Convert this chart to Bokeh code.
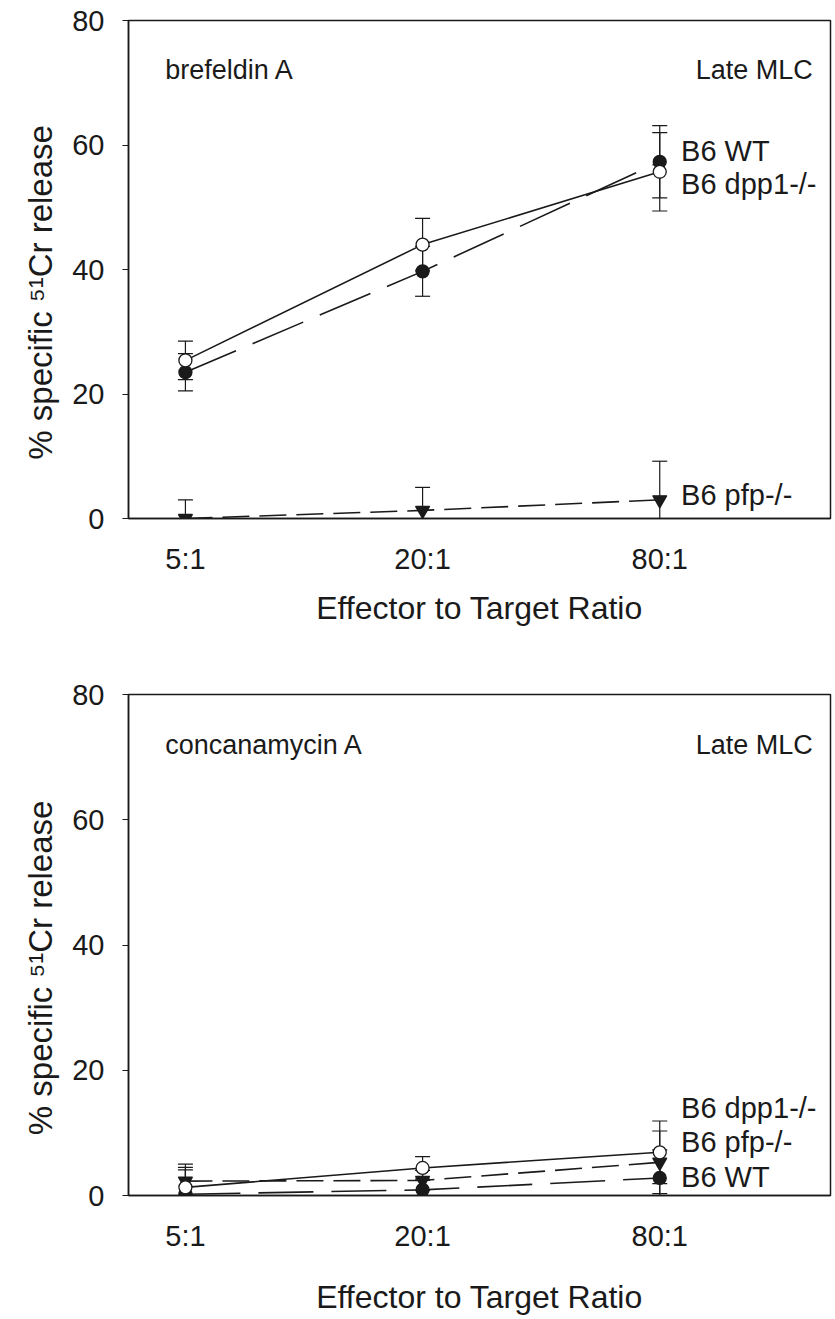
from bokeh.plotting import figure
from bokeh.layouts import column
from bokeh.models import ColumnDataSource, Whisker, TeeHead, FixedTicker
from bokeh.core.properties import value
from bokeh.embed import file_html
from bokeh.resources import INLINE

# Effector-to-target ratios (categorical positions 1, 2, 3)
ratios = ["5:1", "20:1", "80:1"]
xpos = [1, 2, 3]

# Brefeldin A treated, late MLC: mean % specific release and error
bref_wt = [23.5, 39.7, 57.3]
bref_wt_err = [3.0, 4.0, 5.8]
bref_dpp1 = [25.4, 44.0, 55.7]
bref_dpp1_err = [3.1, 4.2, 6.3]
bref_pfp = [0.0, 1.3, 3.0]
bref_pfp_err = [3.0, 3.7, 6.2]

# Concanamycin A treated, late MLC
conc_wt = [0.2, 0.9, 2.8]
conc_wt_err = [3.9, 1.5, 4.5]
conc_dpp1 = [1.3, 4.4, 6.9]
conc_dpp1_err = [3.2, 1.8, 5.0]
conc_pfp = [2.3, 2.4, 5.3]
conc_pfp_err = [2.7, 1.6, 5.0]

# Series name tags placed beside the 80:1 points
bref_tags = ["B6 WT", "B6 dpp1-/-", "B6 pfp-/-"]
bref_tag_y = [59.0, 53.8, 3.7]
conc_tags = ["B6 dpp1-/-", "B6 pfp-/-", "B6 WT"]
conc_tag_y = [13.9, 8.5, 2.9]

FONT = "Liberation Sans"
INK = "#1a1a1a"

# trailing no-break spaces nudge the rotated title a little below centre
Y_TITLE = "% specific \u2075\u00b9Cr release" + "\u00a0" * 5


def make_panel(series, drug, tags, tag_y, border_top, frame_h, border_bottom, title_standoff):
    p = figure(
        output_backend="svg", toolbar_location=None,
        frame_width=702, frame_height=frame_h,
        min_border_left=128, min_border_right=5,
        min_border_top=border_top, min_border_bottom=border_bottom,
        x_range=(0.76, 3.72), y_range=(0, 80),
    )
    p.grid.visible = False
    p.outline_line_color = INK
    p.outline_line_width = 1.5
    p.background_fill_color = "white"
    p.border_fill_color = "white"

    # Axes
    p.xaxis.ticker = FixedTicker(ticks=xpos)
    p.xaxis.major_label_overrides = {x: r for x, r in zip(xpos, ratios)}
    p.xaxis.major_tick_out = 0
    p.xaxis.major_tick_in = 0
    p.xaxis.minor_tick_out = 0
    p.xaxis.minor_tick_in = 0
    p.xaxis.major_label_standoff = 24
    p.xaxis.axis_label = "Effector to Target Ratio"
    p.xaxis.axis_label_standoff = title_standoff

    p.yaxis.ticker = FixedTicker(ticks=[0, 20, 40, 60, 80])
    p.yaxis.major_tick_out = 6
    p.yaxis.major_tick_in = 0
    p.yaxis.minor_tick_out = 0
    p.yaxis.minor_tick_in = 0
    p.yaxis.major_label_standoff = 18
    p.yaxis.axis_label = Y_TITLE
    p.yaxis.axis_label_standoff = 10

    for ax in (p.xaxis, p.yaxis):
        ax.axis_line_color = INK
        ax.axis_line_width = 1.5
        ax.major_tick_line_color = INK
        ax.major_label_text_font = FONT
        ax.major_label_text_font_size = "29px"
        ax.major_label_text_color = INK
        ax.axis_label_text_font = FONT
        ax.axis_label_text_font_style = "normal"
        ax.axis_label_text_color = INK
    p.xaxis.axis_label_text_font_size = "32px"
    p.yaxis.axis_label_text_font_size = "33px"

    # Error bars first, then connecting lines, then markers
    for vals, errs, dash, marker, fill in series:
        src = ColumnDataSource(dict(
            x=xpos, y=vals,
            upper=[v + e for v, e in zip(vals, errs)],
            lower=[v - e for v, e in zip(vals, errs)],
        ))
        w = Whisker(
            source=src, base="x", upper="upper", lower="lower",
            line_color=INK, line_width=1.2, level="underlay",
            upper_head=TeeHead(size=15, line_color=INK, line_width=1.2),
            lower_head=TeeHead(size=15, line_color=INK, line_width=1.2),
        )
        p.add_layout(w)
        p.line("x", "y", source=src, line_color=INK, line_width=1.6, line_dash=dash)

    for vals, errs, dash, marker, fill in series:
        src = ColumnDataSource(dict(x=xpos, y=vals))
        size = 14 if marker == "inverted_triangle" else 13
        p.scatter("x", "y", source=src, marker=marker, size=size,
                  fill_color=fill, line_color=INK, line_width=1.3)

    # Series names beside the last points
    tsrc = ColumnDataSource(dict(x=[3.09] * len(tags), y=tag_y, t=tags))
    p.text("x", "y", text="t", source=tsrc, text_font=value(FONT),
           text_font_size="29px", text_color=INK, text_baseline="middle",
           text_align="left")

    # Panel annotations
    p.text(x=[0.915], y=[72], text=[drug], text_font=value(FONT),
           text_font_size="27px", text_color=INK, text_baseline="middle",
           text_align="left")
    p.text(x=[3.645], y=[72], text=["Late MLC"], text_font=value(FONT),
           text_font_size="27px", text_color=INK, text_baseline="middle",
           text_align="right")
    return p


long_dash = "55 18"
mid_dash = "27 10"

top_series = [
    (bref_pfp, bref_pfp_err, mid_dash, "inverted_triangle", INK),
    (bref_wt, bref_wt_err, long_dash, "circle", INK),
    (bref_dpp1, bref_dpp1_err, "solid", "circle", "white"),
]
bottom_series = [
    (conc_pfp, conc_pfp_err, mid_dash, "inverted_triangle", INK),
    (conc_wt, conc_wt_err, long_dash, "circle", INK),
    (conc_dpp1, conc_dpp1_err, "solid", "circle", "white"),
]

top = make_panel(top_series, "brefeldin A", bref_tags, bref_tag_y,
                 border_top=20, frame_h=498, border_bottom=142, title_standoff=12)
bottom = make_panel(bottom_series, "concanamycin A", conc_tags, conc_tag_y,
                    border_top=34, frame_h=501, border_bottom=124, title_standoff=24)

layout = column(top, bottom, spacing=0)
open("out.html", "w").write(file_html(layout, INLINE))
